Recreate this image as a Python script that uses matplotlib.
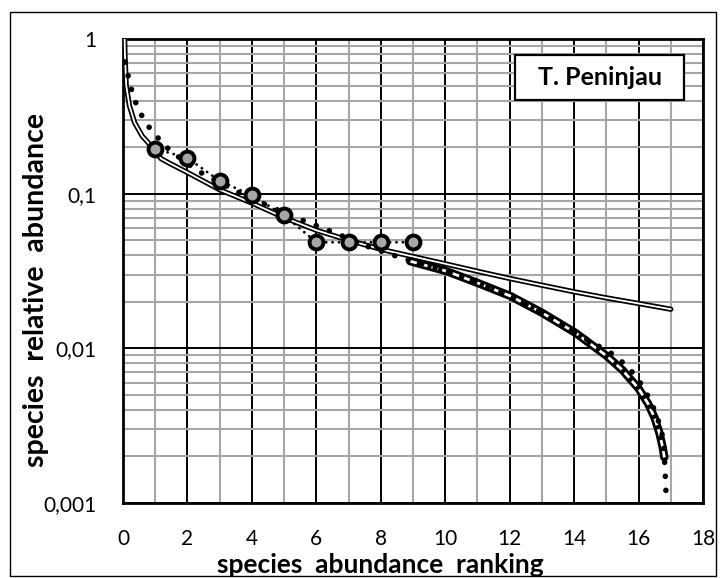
import matplotlib
matplotlib.use("Agg")
import matplotlib.pyplot as plt
from matplotlib.ticker import MultipleLocator, LogLocator, FixedLocator, FixedFormatter, NullFormatter
from matplotlib.patches import Rectangle

plt.rcParams['font.family'] = ['Lato', 'DejaVu Sans']
plt.rcParams['lines.scale_dashes'] = False

# ---- data ----
rank_obs = [1, 2, 3, 4, 5, 6, 7, 8, 9]
rel_obs = [0.195, 0.170, 0.121, 0.0975, 0.0724, 0.0485, 0.0485, 0.0485, 0.0485]

# fitted curve drawn with big round dots
rank_fit_dots = [0.06, 0.18, 0.31, 0.5, 0.76, 1.09, 1.47, 2.3, 3.0, 3.63, 4.64, 5.6, 6.58,
                 7.57, 8.55, 9.0, 10.0, 11.0, 12.0, 13.0, 14.0, 15.23, 15.6, 15.95, 16.23,
                 16.45, 16.66, 16.78, 16.83, 16.86]
rel_fit_dots = [0.71, 0.555, 0.43, 0.343, 0.277, 0.229, 0.189, 0.141, 0.118, 0.101, 0.081,
                0.067, 0.0557, 0.0457, 0.039, 0.0365, 0.0319, 0.0266, 0.0219, 0.0170, 0.0127,
                0.0091, 0.0078, 0.0065, 0.0052, 0.0042, 0.0032, 0.0025, 0.0015, 0.00105]

# thick black line with white dashes
rank_fit_dash = [8.91, 10.05, 11.0, 12.02, 13.0, 14.04, 15.02, 15.5, 16.0, 16.3, 16.5,
                 16.65, 16.75, 16.8]
rel_fit_dash = [0.0366, 0.0315, 0.0265, 0.0218, 0.0170, 0.0126, 0.0089, 0.00724, 0.0055,
                0.00437, 0.00355, 0.00282, 0.00229, 0.00197]

# double (outlined) line
rank_fit_double = [0.04, 0.06, 0.1, 0.2, 0.36, 0.6, 0.78, 1.0, 1.19, 1.5, 2.0, 3.0, 4.0, 5.0,
                   6.0, 7.0, 8.0, 9.0, 10.0, 11.0, 12.0, 13.0, 14.0, 15.0, 16.0, 17.0]
rel_fit_double = [1.3, 0.8, 0.5, 0.37, 0.288, 0.235, 0.214, 0.185, 0.168, 0.155, 0.137, 0.106,
                  0.087, 0.070, 0.058, 0.050, 0.0437, 0.0392, 0.0352, 0.0315, 0.0283, 0.0256,
                  0.0232, 0.0212, 0.0195, 0.0179]

x_ticks = [0, 2, 4, 6, 8, 10, 12, 14, 16, 18]
y_ticks = [0.001, 0.01, 0.1, 1]
y_tick_labels = ["0,001", "0,01", "0,1", "1"]
site_name = "T. Peninjau"
x_label = "species  abundance  ranking"
y_label = "species  relative  abundance"

# ---- figure ----
W, H = 722, 578
AX_L, AX_R, AX_T, AX_B = 123, 703, 39, 503
fig = plt.figure(figsize=(W / 100, H / 100), dpi=100)
ax = fig.add_axes([AX_L / W, 1 - AX_B / H, (AX_R - AX_L) / W, (AX_B - AX_T) / H])


def ax_x(px):
    return (px - AX_L) / (AX_R - AX_L)


def ax_y(py):
    return (AX_B - py) / (AX_B - AX_T)


ax.set_yscale('log')
ax.set_xlim(0, 18)
ax.set_ylim(0.001, 1)

ax.xaxis.set_major_locator(FixedLocator(x_ticks))
ax.xaxis.set_minor_locator(MultipleLocator(1))
ax.yaxis.set_major_locator(FixedLocator(y_ticks))
ax.yaxis.set_major_formatter(FixedFormatter(y_tick_labels))
ax.yaxis.set_minor_locator(LogLocator(base=10, subs=[2, 3, 4, 5, 6, 7, 8, 9]))
ax.yaxis.set_minor_formatter(NullFormatter())

ax.grid(which='minor', color='#a6a6a6', lw=1.5, zorder=0)
ax.grid(which='major', color='black', lw=1.4, zorder=0)
ax.set_axisbelow(True)
ax.tick_params(which='both', length=0)
ax.tick_params(axis='x', pad=19, labelsize=15)
ax.tick_params(axis='y', pad=19, labelsize=15)
for s in ax.spines.values():
    s.set_linewidth(2.0)
    s.set_color('black')

# double line
ax.plot(rank_fit_double, rel_fit_double, color='black', lw=3.8, solid_capstyle='round', zorder=3)
ax.plot(rank_fit_double, rel_fit_double, color='white', lw=1.3, solid_capstyle='round', zorder=3.1)

# thick dashed line
ax.plot(rank_fit_dash, rel_fit_dash, color='black', lw=6.0, solid_capstyle='round', zorder=4)
ax.plot(rank_fit_dash, rel_fit_dash, color='white', lw=2.0, dashes=(5, 3), zorder=4.1)

# big dotted line
ax.plot(rank_fit_dots, rel_fit_dots, color='black', lw=4.0, dashes=(0.1, 10),
        dash_capstyle='round', zorder=5)

# observed
ax.plot(rank_obs, rel_obs, color='black', lw=2.0, dashes=(0.1, 4.5), dash_capstyle='round',
        zorder=6)
ax.plot(rank_obs, rel_obs, ls='none', marker='o', ms=10, mfc='#a6a6a6', mec='black', mew=2.8,
        zorder=7)

# site label box
bx0, bx1, by0, by1 = 515, 684, 55, 100
ax.add_patch(Rectangle((ax_x(bx0), ax_y(by1)), ax_x(bx1) - ax_x(bx0), ax_y(by0) - ax_y(by1),
                       transform=ax.transAxes, fc='white', ec='black', lw=1.6, zorder=9))
ax.text(ax_x((bx0 + bx1) / 2), ax_y((by0 + by1) / 2), site_name, transform=ax.transAxes,
        ha='center', va='center', fontsize=18, fontweight='bold', zorder=10)

ax.set_xlabel(x_label, fontsize=19, fontweight='bold')
ax.xaxis.label.set_va('center')
ax.xaxis.set_label_coords(ax_x(380), ax_y(565))
ax.set_ylabel(y_label, fontsize=20.5, fontweight='bold')
ax.yaxis.label.set_va('center')
ax.yaxis.set_label_coords(ax_x(36), ax_y(290))

fig.add_artist(Rectangle((10 / W, 2 / H), 706 / W, 564 / H, transform=fig.transFigure,
                         fill=False, ec='black', lw=1.0))

fig.savefig('out.png', dpi=100)
